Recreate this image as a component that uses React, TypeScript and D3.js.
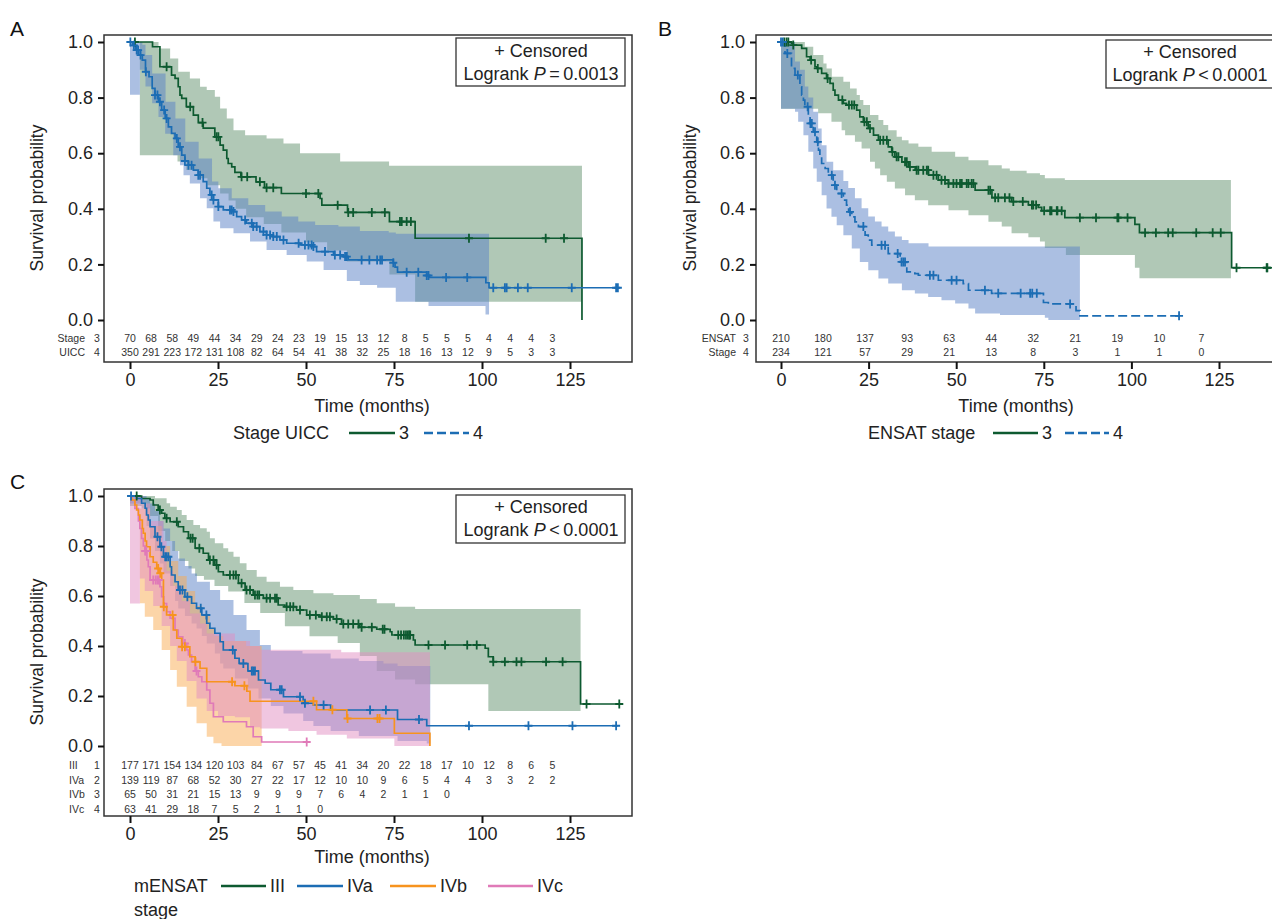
import React, { useEffect, useRef } from 'react';
import * as d3 from 'd3';

type Step = [number, number];

// ---------- Panel A: Stage UICC ----------
const riskTimesA = [0, 6, 12, 18, 24, 30, 36, 42, 48, 54, 60, 66, 72, 78, 84, 90, 96, 102, 108, 114, 120];
const riskA3 = [70, 68, 58, 49, 44, 34, 29, 24, 23, 19, 15, 13, 12, 8, 5, 5, 5, 4, 4, 4, 3];
const riskA4 = [350, 291, 223, 172, 131, 108, 82, 64, 54, 41, 38, 32, 25, 18, 16, 13, 12, 9, 5, 3, 3];

const kmA3: Step[] = [[0, 1], [6.4, 0.983], [8.5, 0.911], [11.8, 0.881], [12.8, 0.869], [13.7, 0.839], [14.2, 0.809], [14.7, 0.797], [16.0, 0.767], [18.0, 0.737], [19.4, 0.71], [20.8, 0.69], [24.1, 0.659], [25.6, 0.629], [26.5, 0.611], [27.5, 0.581], [27.9, 0.563], [28.9, 0.551], [29.8, 0.531], [31.5, 0.515], [35.8, 0.497], [38.2, 0.476], [43.0, 0.455], [54.0, 0.437], [54.5, 0.413], [61.8, 0.387], [73.7, 0.354], [81.0, 0.294], [128.4, 0]];
const censA3 = [1.4, 10.4, 17.1, 20.6, 24.6, 25.1, 31.7, 33.3, 36.9, 38.8, 40.7, 50.0, 53.5, 59.0, 62.0, 63.4, 68.7, 72.4, 76.7, 77.2, 78.6, 79.8, 96.3, 118.1, 123.3];
const loA3: Step[] = [[2.8, 0.593], [13.5, 0.57], [16, 0.54], [19.9, 0.51], [22, 0.485], [25.6, 0.455], [28, 0.43], [30, 0.40], [33, 0.37], [38, 0.345], [43, 0.315], [50, 0.28], [56, 0.25], [61.6, 0.21], [73.7, 0.164], [81, 0.066]];
const hiA3: Step[] = [[2.8, 1], [8.1, 0.977], [11.4, 0.941], [13.7, 0.893], [17.0, 0.869], [19.9, 0.839], [21.8, 0.827], [24.1, 0.803], [25.6, 0.761], [27.5, 0.725], [29.4, 0.683], [32.7, 0.665], [38.8, 0.653], [43.6, 0.635], [48.3, 0.6], [59.7, 0.57], [73.6, 0.555]];

const kmA4: Step[] = [[0, 1], [0.7, 0.988], [1.6, 0.971], [2.5, 0.953], [3.5, 0.935], [4.4, 0.893], [5.4, 0.875], [6.3, 0.833], [7.1, 0.809], [8.1, 0.785], [9.0, 0.755], [10.0, 0.725], [10.9, 0.695], [11.8, 0.671], [12.8, 0.653], [13.7, 0.623], [14.7, 0.593], [15.6, 0.572], [16.6, 0.557], [18.0, 0.539], [19.4, 0.521], [20.8, 0.498], [21.8, 0.474], [22.7, 0.45], [23.7, 0.432], [25.1, 0.408], [26.5, 0.396], [29.4, 0.39], [30.3, 0.372], [31.7, 0.36], [33.1, 0.348], [35.0, 0.336], [36.9, 0.318], [38.8, 0.306], [40.7, 0.3], [42.6, 0.288], [44.5, 0.276], [48.3, 0.27], [52.1, 0.264], [53.0, 0.246], [57.8, 0.234], [60.6, 0.228], [62.0, 0.216], [74.8, 0.206], [75.3, 0.19], [76.0, 0.172], [84.3, 0.16], [85.0, 0.153], [101.1, 0.134], [102.0, 0.116]];
const censA4 = [0.1, 1.1, 1.9, 2.3, 3.0, 4.5, 7.1, 7.8, 8.5, 9.7, 10.4, 13.3, 14.2, 15.6, 16.6, 17.5, 19.4, 19.9, 23.2, 23.7, 25.1, 28.4, 28.9, 29.4, 32.7, 34.6, 35.0, 36.0, 37.9, 38.8, 39.8, 40.7, 41.7, 43.6, 47.9, 49.7, 50.7, 51.6, 52.1, 55.4, 58.2, 59.7, 61.1, 61.6, 65.8, 68.0, 70.2, 71.1, 71.6, 74.8, 78.6, 81.9, 84.3, 84.8, 89.8, 95.8, 103.2, 106.5, 107.0, 110.2, 113.0, 125.5, 138.1, 138.6];
const loA4: Step[] = [[0, 0.81], [2.8, 0.9], [4.4, 0.84], [6.3, 0.78], [8.1, 0.73], [10, 0.67], [12.3, 0.593], [14.2, 0.557], [15.2, 0.521], [17.0, 0.491], [19.9, 0.438], [21.8, 0.402], [23.7, 0.354], [25.6, 0.33], [29.4, 0.312], [34.1, 0.282], [38.8, 0.252], [44.5, 0.234], [50.2, 0.21], [55, 0.18], [61.6, 0.14], [65.3, 0.126], [70.2, 0.116], [75.5, 0.066], [84.8, 0.05], [101, 0.02]];
const hiA4: Step[] = [[0, 1], [3.5, 0.99], [4.4, 0.953], [6.3, 0.887], [10.1, 0.785], [12.9, 0.725], [15.7, 0.641], [19.5, 0.581], [23.3, 0.498], [25.1, 0.474], [28.9, 0.438], [33.6, 0.414], [38.4, 0.39], [43.1, 0.372], [47.8, 0.354], [52.6, 0.342], [59.2, 0.336], [65.3, 0.32], [73.5, 0.315], [75.5, 0.31]];

// ---------- Panel B: ENSAT stage ----------
const riskTimesB = [0, 12, 24, 36, 48, 60, 72, 84, 96, 108, 120];
const riskB3 = [210, 180, 137, 93, 63, 44, 32, 21, 19, 10, 7];
const riskB4 = [234, 121, 57, 29, 21, 13, 8, 3, 1, 1, 0];

const kmB3: Step[] = [[0, 1], [3.0, 0.995], [3.5, 0.989], [5.9, 0.977], [7.3, 0.947], [8.3, 0.935], [9.7, 0.911], [10.2, 0.905], [11.6, 0.887], [13.0, 0.869], [14.0, 0.851], [14.9, 0.827], [15.4, 0.809], [16.4, 0.791], [17.8, 0.779], [18.7, 0.773], [21.6, 0.755], [22.5, 0.731], [23.5, 0.713], [24.9, 0.689], [26.4, 0.665], [27.8, 0.647], [30.6, 0.623], [31.6, 0.605], [32.5, 0.587], [34.5, 0.569], [36.4, 0.551], [38.3, 0.539], [42.1, 0.521], [44.9, 0.503], [47.8, 0.491], [55.4, 0.467], [60.2, 0.44], [65.8, 0.426], [70.6, 0.414], [73.4, 0.405], [74.4, 0.393], [81.0, 0.368], [101.0, 0.344], [102.3, 0.314], [128.6, 0.188]];
const censB3 = [0.95, 1.6, 2.1, 3.5, 8.6, 10.5, 13.3, 17.5, 19.4, 20.2, 20.9, 23.8, 24.5, 25.4, 28.3, 29.2, 30.2, 31.8, 33.0, 33.5, 35.4, 35.9, 36.8, 38.7, 39.2, 40.6, 41.6, 42.0, 43.5, 44.4, 45.8, 46.8, 47.8, 49.2, 50.1, 51.1, 51.6, 53.0, 53.5, 54.4, 54.9, 59.2, 59.7, 61.1, 62.0, 63.9, 65.2, 66.3, 69.0, 71.6, 72.0, 72.8, 75.1, 76.8, 77.2, 78.7, 78.9, 80.1, 85.3, 89.9, 96.0, 96.3, 98.9, 103.9, 107.0, 110.5, 111.8, 118.5, 123.2, 125.5, 130.0, 138.6, 138.8];
const loB3: Step[] = [[0, 0.76], [9.2, 0.76], [10.6, 0.744], [14.4, 0.713], [17.3, 0.683], [18.3, 0.665], [21.1, 0.641], [23.0, 0.617], [25.4, 0.569], [26.8, 0.545], [28.3, 0.521], [30.2, 0.497], [32.5, 0.473], [35.4, 0.449], [38.2, 0.431], [42, 0.413], [47.8, 0.395], [53.5, 0.377], [59.2, 0.353], [63, 0.336], [65.8, 0.312], [70.6, 0.298], [73.9, 0.282], [75.3, 0.259], [81.3, 0.234], [101, 0.188], [102.3, 0.15]];
const hiB3: Step[] = [[0, 1], [6.8, 0.983], [9.2, 0.953], [12.1, 0.923], [13, 0.905], [14.5, 0.875], [17.8, 0.857], [19.7, 0.833], [21.6, 0.809], [22.5, 0.791], [23.5, 0.773], [25.4, 0.737], [27.8, 0.719], [29.2, 0.701], [30.6, 0.683], [33, 0.659], [34.5, 0.647], [36.4, 0.635], [39.2, 0.623], [43, 0.605], [49.7, 0.587], [53.5, 0.575], [59.2, 0.557], [63, 0.545], [65.3, 0.537], [70.1, 0.528], [73.9, 0.522], [75.3, 0.51], [81, 0.504]];

const kmB4: Step[] = [[0, 1], [1.14, 0.959], [3.0, 0.905], [4.0, 0.881], [5.4, 0.839], [5.9, 0.809], [6.4, 0.791], [6.8, 0.767], [7.8, 0.737], [8.3, 0.707], [9.2, 0.677], [10.2, 0.641], [10.7, 0.611], [11.1, 0.587], [11.6, 0.563], [12.6, 0.545], [13.5, 0.521], [14.9, 0.485], [15.9, 0.455], [17.8, 0.431], [18.7, 0.413], [19.3, 0.389], [20.2, 0.371], [21.1, 0.353], [22.1, 0.336], [24.0, 0.305], [24.9, 0.287], [25.9, 0.269], [30.6, 0.239], [34.0, 0.209], [35.9, 0.173], [38.2, 0.167], [39.2, 0.161], [44.9, 0.143], [52.0, 0.131], [53.5, 0.107], [60.1, 0.096], [74.9, 0.063], [76.3, 0.058], [84.2, 0.034], [85.3, 0.015]];
const censB4 = [0, 0.5, 1.8, 4.8, 7.6, 8.4, 8.8, 9.7, 10.5, 14.5, 15.4, 17.3, 19.7, 23.5, 28.7, 29.7, 33.3, 34.4, 34.9, 35.4, 42.5, 43.5, 48.7, 50.1, 58.2, 62.0, 68.4, 71.1, 71.7, 73.0, 82.5, 113.6];
const loB4: Step[] = [[0, 0.76], [4.0, 0.749], [4.9, 0.713], [6.4, 0.665], [7.8, 0.605], [9.2, 0.545], [10.2, 0.497], [11.6, 0.449], [13, 0.401], [14.4, 0.371], [15.9, 0.341], [17.8, 0.305], [20.2, 0.257], [22.5, 0.209], [24.9, 0.179], [27.8, 0.149], [30.6, 0.131], [34.5, 0.107], [38.2, 0.095], [42, 0.083], [45.8, 0.071], [49.7, 0.059], [53.5, 0.041], [55.4, 0.023], [62.5, 0.018], [75.3, 0.008], [76.3, 0.0]];
const hiB4: Step[] = [[0, 1], [4.0, 0.93], [5.4, 0.9], [6.8, 0.84], [7.8, 0.8], [9.2, 0.749], [10.6, 0.689], [11.6, 0.629], [13.0, 0.569], [14.9, 0.539], [17.8, 0.5], [19.2, 0.475], [21.1, 0.438], [23, 0.402], [24.9, 0.372], [26.8, 0.354], [28.7, 0.336], [30.6, 0.318], [32.5, 0.3], [34.5, 0.288], [36.4, 0.276], [42.1, 0.264]];

// ---------- Panel C: mENSAT stage ----------
const riskTimesC = riskTimesA;
const riskC1 = [177, 171, 154, 134, 120, 103, 84, 67, 57, 45, 41, 34, 20, 22, 18, 17, 10, 12, 8, 6, 5];
const riskC2 = [139, 119, 87, 68, 52, 30, 27, 22, 17, 12, 10, 10, 9, 6, 5, 4, 4, 3, 3, 2, 2];
const riskC3 = [65, 50, 31, 21, 15, 13, 9, 9, 9, 7, 6, 4, 2, 1, 1, 0];
const riskC4 = [63, 41, 29, 18, 7, 5, 2, 1, 1, 0];

const kmC1: Step[] = [[0, 1], [3.3, 0.99], [5.7, 0.984], [6.6, 0.964], [8.0, 0.944], [9.0, 0.931], [9.9, 0.911], [11.4, 0.897], [13.7, 0.877], [15.2, 0.857], [16.6, 0.831], [18.5, 0.791], [20.8, 0.771], [22.3, 0.744], [24.1, 0.724], [25.1, 0.697], [26.5, 0.684], [30.8, 0.651], [32.7, 0.624], [35.0, 0.604], [37.9, 0.591], [42.1, 0.564], [44.0, 0.557], [47.3, 0.544], [50.2, 0.524], [54.0, 0.517], [57.8, 0.508], [60.1, 0.488], [65.3, 0.475], [70.1, 0.467], [73.9, 0.457], [74.4, 0.444], [80.5, 0.424], [81.0, 0.404], [100.9, 0.391], [101.8, 0.357], [103.2, 0.337], [128.0, 0.168]];
const censC1 = [1.9, 8.5, 10.4, 13.3, 17.2, 17.8, 19.7, 22.7, 23.7, 24.6, 28.4, 29.4, 30.1, 31.7, 33.1, 34.1, 35.5, 36.2, 36.7, 38.8, 39.8, 41.2, 41.7, 44.5, 45.5, 46.4, 48.3, 51.1, 52.8, 54.5, 55.9, 56.8, 58.7, 60.6, 62.0, 63.4, 64.9, 65.8, 68.7, 71.8, 72.3, 76.2, 77.0, 77.8, 78.4, 78.9, 79.3, 79.6, 84.8, 89.5, 95.8, 98.5, 103.2, 106.5, 109.8, 111.2, 118.2, 122.9, 129.7, 139.0];
const loC1: Step[] = [[0, 0.96], [3.3, 0.95], [5.7, 0.92], [8, 0.86], [10, 0.82], [12, 0.78], [14, 0.74], [16.6, 0.71], [18.5, 0.68], [21, 0.665], [24, 0.64], [27.9, 0.618], [32.5, 0.572], [37, 0.532], [44, 0.479], [51, 0.439], [59, 0.412], [65.3, 0.36], [70.1, 0.3], [75.3, 0.266], [81, 0.247], [101.8, 0.14]];
const hiC1: Step[] = [[0, 1], [7.1, 0.991], [10.4, 0.971], [11.4, 0.957], [13.3, 0.944], [14.7, 0.924], [16.1, 0.904], [18.0, 0.884], [19.9, 0.871], [21.8, 0.857], [22.7, 0.831], [24.1, 0.811], [26.5, 0.791], [27.9, 0.777], [29.4, 0.757], [31.2, 0.731], [33.1, 0.704], [36.0, 0.677], [38.8, 0.657], [42.6, 0.637], [46.4, 0.624], [52.1, 0.611], [57.8, 0.604], [65.3, 0.588], [70.1, 0.571], [75.3, 0.557], [81, 0.548]];

const kmC2: Step[] = [[0, 1], [1.9, 0.99], [3.3, 0.971], [4.3, 0.951], [4.7, 0.924], [5.2, 0.904], [5.7, 0.877], [7.1, 0.837], [8.5, 0.797], [9.5, 0.757], [11.4, 0.717], [11.8, 0.684], [12.8, 0.657], [13.7, 0.624], [15.6, 0.597], [17.5, 0.571], [18.9, 0.551], [20.4, 0.524], [21.8, 0.491], [22.7, 0.471], [24.1, 0.451], [25.6, 0.417], [26.5, 0.384], [29.8, 0.351], [31.0, 0.33], [33.5, 0.3], [36.5, 0.264], [38.4, 0.251], [40.0, 0.225], [43.6, 0.197], [49.2, 0.171], [52.1, 0.164], [57.0, 0.144], [76.0, 0.106], [84.3, 0.081]];
const censC2 = [0.3, 7.8, 8.9, 10.0, 10.4, 10.9, 14.2, 14.9, 16.3, 20.1, 21.7, 29.2, 32.2, 34.6, 35.0, 35.5, 42.6, 43.1, 48.3, 49.7, 55.0, 68.2, 72.7, 82.1, 96.3, 113.2, 125.7, 138.1];
const loC2: Step[] = [[0, 0.97], [4.7, 0.88], [5.7, 0.83], [7.1, 0.78], [8.5, 0.73], [9.5, 0.69], [11.4, 0.64], [12.8, 0.58], [13.7, 0.55], [15.6, 0.52], [17.5, 0.49], [18.9, 0.47], [20.4, 0.44], [21.8, 0.41], [24.1, 0.37], [25.6, 0.33], [26.5, 0.31], [29.8, 0.27], [33.5, 0.23], [36.5, 0.19], [40, 0.16], [43.6, 0.13], [49.2, 0.1], [52.1, 0.08], [57, 0.06], [65, 0.04], [76, 0.02], [84.3, 0.01]];
const hiC2: Step[] = [[0, 1], [4.7, 0.99], [5.7, 0.97], [7.1, 0.94], [8.5, 0.9], [9.5, 0.87], [11.4, 0.82], [12.8, 0.78], [13.7, 0.75], [15.6, 0.72], [17.5, 0.69], [19, 0.657], [22.7, 0.624], [25.6, 0.584], [29.4, 0.524], [33.1, 0.464], [36.9, 0.404], [40, 0.38], [49, 0.37], [57, 0.35], [65, 0.34], [72, 0.33], [76, 0.32]];

const kmC3: Step[] = [[0, 1], [0.5, 0.984], [1.4, 0.964], [1.9, 0.944], [2.4, 0.924], [2.8, 0.904], [3.5, 0.87], [3.8, 0.851], [4.3, 0.82], [4.7, 0.797], [5.7, 0.757], [6.6, 0.735], [7.6, 0.71], [8.5, 0.691], [9.0, 0.664], [9.5, 0.557], [10.4, 0.524], [12.3, 0.464], [13.3, 0.431], [14.7, 0.397], [17.0, 0.357], [18.5, 0.337], [19.9, 0.311], [21.8, 0.257], [29.8, 0.241], [33.2, 0.219], [34.1, 0.179], [53.0, 0.145], [61.6, 0.11], [75.1, 0.051], [85.2, 0]];
const censC3 = [8.0, 8.6, 9.6, 12.1, 14.8, 15.6, 18.6, 29.0, 32.5, 52.1, 57.5, 61.8, 70.3, 70.9];
const loC3: Step[] = [[0, 0.57], [2.8, 0.67], [4.2, 0.62], [6.6, 0.56], [9, 0.48], [11.4, 0.4], [13.3, 0.34], [16.1, 0.26], [18.9, 0.19], [21.8, 0.14], [25, 0.12], [29.8, 0.115], [34.1, 0.075], [37, 0.07], [45, 0.06], [53, 0.045], [61.6, 0.03], [75.1, 0.0]];
const hiC3: Step[] = [[0, 1], [3.8, 0.97], [5.7, 0.9], [9.5, 0.82], [10.4, 0.7], [12.3, 0.64], [14.7, 0.58], [17, 0.53], [19.9, 0.49], [21.8, 0.45], [29.8, 0.42], [34.1, 0.4], [37, 0.385], [60, 0.375]];

const kmC4: Step[] = [[0, 1], [0.5, 0.984], [1.4, 0.95], [2.4, 0.9], [2.8, 0.87], [3.3, 0.83], [3.8, 0.8], [4.3, 0.78], [4.8, 0.744], [5.2, 0.717], [5.7, 0.664], [8.5, 0.637], [9.0, 0.597], [9.6, 0.57], [10.4, 0.537], [11.4, 0.511], [12.8, 0.464], [13.7, 0.437], [15.0, 0.41], [16.1, 0.384], [16.6, 0.364], [17.5, 0.337], [18.5, 0.3], [19.4, 0.277], [20.4, 0.257], [21.8, 0.224], [22.7, 0.171], [23.7, 0.117], [26.5, 0.097], [33.1, 0.077], [35.0, 0.037], [37.4, 0.016]];
const censC4 = [4.3, 4.6, 6.6, 7.3, 7.8, 8.2, 15.6, 18.9, 50.2];
const loC4: Step[] = [[2.8, 0.571], [4.2, 0.517], [6.6, 0.464], [9.0, 0.384], [11.4, 0.304], [13.3, 0.237], [16.1, 0.157], [18.9, 0.091], [21.8, 0.037], [23.7, 0.011], [26, 0.0]];
const hiC4: Step[] = [[2.8, 0.95], [5.7, 0.88], [9, 0.8], [11.4, 0.74], [13.7, 0.68], [16.1, 0.62], [18.5, 0.56], [20.4, 0.52], [22.7, 0.47], [24, 0.44], [26.5, 0.42], [33, 0.4]];

const xTicks = [0, 25, 50, 75, 100, 125];
const yTicks = [0, 0.2, 0.4, 0.6, 0.8, 1.0];

const FONT = '"Liberation Sans", Arial, Helvetica, sans-serif';
const GREEN = '#0d5a30';
const BLUE = '#1c6db4';
const ORANGE = '#f7931e';
const PINK = '#e07ab8';
const F_GREEN = 'rgb(97,145,109)';
const F_BLUE = 'rgb(87,127,197)';
const F_ORANGE = 'rgb(249,171,81)';
const F_PINK = 'rgb(225,141,193)';

function stepAt(steps: Step[], t: number) {
  let v = steps[0][1];
  for (const s of steps) {
    if (s[0] <= t) v = s[1];
    else break;
  }
  return v;
}

function bandRows(lo: Step[], hi: Step[], end: number) {
  const start = Math.max(lo[0][0], hi[0][0]);
  const ts = Array.from(new Set(lo.concat(hi).map(d => d[0]).filter(t => t >= start))).sort((a, b) => a - b);
  const rows = ts.map(t => [t, stepAt(lo, t), stepAt(hi, t)]);
  rows.push([end, stepAt(lo, end), stepAt(hi, end)]);
  return rows;
}

function drawPanel(svg: any, p: any) {
  const x = d3.scaleLinear().domain([0, 125]).range(p.xRange);
  const y = d3.scaleLinear().domain([0, 1]).range(p.yRange);
  const g = svg.append('g');

  // confidence bands
  p.curves.forEach((c: any) => {
    const rows = bandRows(c.lo, c.hi, c.bandEnd);
    const area = d3.area<any>()
      .curve(d3.curveStepAfter)
      .x(d => x(d[0]))
      .y0(d => y(d[1]))
      .y1(d => y(d[2]));
    g.append('path').attr('d', area(rows)).attr('fill', c.fill).attr('fill-opacity', 0.5);
  });

  // survival curves
  p.curves.forEach((c: any) => {
    const pts = c.km.slice();
    const last = pts[pts.length - 1];
    if (c.end > last[0]) pts.push([c.end, last[1]]);
    const line = d3.line<any>().curve(d3.curveStepAfter).x(d => x(d[0])).y(d => y(d[1]));
    g.append('path').attr('d', line(pts)).attr('fill', 'none')
      .attr('stroke', c.color).attr('stroke-width', 1.7)
      .attr('stroke-dasharray', c.dash || null);
  });

  // censor marks
  p.curves.forEach((c: any) => {
    g.selectAll(null).data(c.cens).enter().append('path')
      .attr('d', (t: number) => {
        const cx = x(t), cy = y(stepAt(c.km, t));
        return `M${cx - 4},${cy}H${cx + 4}M${cx},${cy - 4.5}V${cy + 4.5}`;
      })
      .attr('stroke', c.color).attr('stroke-width', 1.8).attr('fill', 'none');
  });

  // frame
  const f = p.frame;
  g.append('rect').attr('x', f.x).attr('y', f.y).attr('width', f.w).attr('height', f.h)
    .attr('fill', 'none').attr('stroke', '#333').attr('stroke-width', 1.5);

  // axes
  const ya = g.append('g').attr('transform', `translate(${f.x},0)`)
    .call(d3.axisLeft(y).tickValues(yTicks).tickFormat(d3.format('.1f')).tickSize(6).tickPadding(5));
  const xa = g.append('g').attr('transform', `translate(0,${f.y + f.h})`)
    .call(d3.axisBottom(x).tickValues(xTicks).tickSize(7).tickPadding(4));
  [ya, xa].forEach(a => {
    a.select('.domain').remove();
    a.selectAll('line').attr('stroke', '#111').attr('stroke-width', 2);
    a.selectAll('text').attr('font-family', FONT).attr('font-size', 18).attr('fill', '#222');
  });

  // axis titles
  g.append('text').attr('transform', `translate(${p.yTitle[0]},${p.yTitle[1]}) rotate(-90)`)
    .attr('text-anchor', 'middle').attr('dominant-baseline', 'middle')
    .attr('font-family', FONT).attr('font-size', 17.5).attr('fill', '#222').text('Survival probability');
  g.append('text').attr('x', p.xTitle[0]).attr('y', p.xTitle[1]).attr('text-anchor', 'middle')
    .attr('font-family', FONT).attr('font-size', 18).attr('fill', '#222').text('Time (months)');

  // panel letter
  g.append('text').attr('x', p.letterPos[0]).attr('y', p.letterPos[1])
    .attr('font-family', FONT).attr('font-size', 21).attr('fill', '#111').text(p.letter);

  // numbers at risk
  p.risk.rows.forEach((r: any, i: number) => {
    const ry = p.risk.ys[i];
    g.selectAll(null).data(r.values).enter().append('text')
      .attr('x', (_: any, j: number) => x(p.risk.times[j])).attr('y', ry)
      .attr('text-anchor', 'middle').attr('dominant-baseline', 'middle')
      .attr('font-family', FONT).attr('font-size', 10.5).attr('fill', '#333')
      .text((d: number) => d);
    g.append('text').attr('x', p.risk.labelX).attr('y', ry)
      .attr('text-anchor', p.risk.labelAnchor).attr('dominant-baseline', 'middle')
      .attr('font-family', FONT).attr('font-size', 10.5).attr('fill', '#333').text(r.label);
    g.append('text').attr('x', p.risk.groupX).attr('y', ry)
      .attr('text-anchor', 'middle').attr('dominant-baseline', 'middle')
      .attr('font-family', FONT).attr('font-size', 10.5).attr('fill', '#333').text(r.group);
  });

  // inset legend box
  const b = p.box;
  g.append('rect').attr('x', b.x).attr('y', b.y).attr('width', b.w).attr('height', b.h)
    .attr('fill', 'white').attr('stroke', '#333').attr('stroke-width', 1.3);
  g.append('text').attr('x', b.cx).attr('y', b.l1).attr('text-anchor', 'middle')
    .attr('font-family', FONT).attr('font-size', 18).attr('fill', '#222').text('+ Censored');
  const lt = g.append('text').attr('x', b.cx).attr('y', b.l2).attr('text-anchor', 'middle')
    .attr('font-family', FONT).attr('font-size', 18).attr('fill', '#222');
  lt.append('tspan').text('Logrank ');
  lt.append('tspan').attr('font-style', 'italic').text('P');
  lt.append('tspan').text(b.pText);

  // bottom legend
  p.legend.title.forEach((t: string, i: number) => {
    g.append('text').attr('x', p.legend.titleX).attr('y', p.legend.y + 6 + i * 24)
      .attr('font-family', FONT).attr('font-size', 18).attr('fill', '#222').text(t);
  });
  p.legend.items.forEach((it: any) => {
    g.append('line').attr('x1', it.x1).attr('x2', it.x2).attr('y1', p.legend.y).attr('y2', p.legend.y)
      .attr('stroke', it.color).attr('stroke-width', 2.4).attr('stroke-dasharray', it.dash || null);
    g.append('text').attr('x', it.x2 + 4).attr('y', p.legend.y + 6)
      .attr('font-family', FONT).attr('font-size', 18).attr('fill', '#222').text(it.label);
  });
}

const panels = [
  {
    letter: 'A', letterPos: [10, 36], xRange: [130, 570], yRange: [320, 42],
    frame: { x: 104, y: 35, w: 528, h: 327 }, yTitle: [38, 198], xTitle: [372, 412],
    curves: [
      { km: kmA3, end: 128.4, cens: censA3, lo: loA3, hi: hiA3, bandEnd: 128.4, color: GREEN, fill: F_GREEN },
      { km: kmA4, end: 138.6, cens: censA4, lo: loA4, hi: hiA4, bandEnd: 102.0, color: BLUE, fill: F_BLUE },
    ],
    risk: { times: riskTimesA, ys: [339, 353], labelX: 85, labelAnchor: 'end', groupX: 97,
      rows: [{ label: 'Stage', group: '3', values: riskA3 }, { label: 'UICC', group: '4', values: riskA4 }] },
    box: { x: 456, y: 38, w: 169, h: 48, cx: 541, l1: 57, l2: 80, pText: '\u2009=\u20090.0013' },
    legend: { y: 433, titleX: 233, title: ['Stage UICC'], items: [
      { x1: 349, x2: 395, color: GREEN, label: '3' },
      { x1: 424, x2: 469, color: BLUE, label: '4', dash: '9 4' }] },
  },
  {
    letter: 'B', letterPos: [658, 36], xRange: [781, 1219], yRange: [320, 42],
    frame: { x: 756, y: 35, w: 530, h: 327 }, yTitle: [691, 198], xTitle: [1016, 412],
    curves: [
      { km: kmB3, end: 142, cens: censB3, lo: loB3, hi: hiB3, bandEnd: 128.4, color: GREEN, fill: F_GREEN },
      { km: kmB4, end: 113.6, cens: censB4, lo: loB4, hi: hiB4, bandEnd: 85.3, color: BLUE, fill: F_BLUE, dash: '9 4' },
    ],
    risk: { times: riskTimesB, ys: [339, 353], labelX: 736, labelAnchor: 'end', groupX: 746,
      rows: [{ label: 'ENSAT', group: '3', values: riskB3 }, { label: 'Stage', group: '4', values: riskB4 }] },
    box: { x: 1106, y: 40, w: 170, h: 48, cx: 1190, l1: 58, l2: 81, pText: '\u2009<\u20090.0001' },
    legend: { y: 433, titleX: 868, title: ['ENSAT stage'], items: [
      { x1: 993, x2: 1038, color: GREEN, label: '3' },
      { x1: 1065, x2: 1109, color: BLUE, label: '4', dash: '9 4' }] },
  },
  {
    letter: 'C', letterPos: [10, 489], xRange: [130, 570], yRange: [746, 496],
    frame: { x: 104, y: 489, w: 528, h: 327 }, yTitle: [38, 652], xTitle: [372, 863],
    curves: [
      { km: kmC1, end: 139.7, cens: censC1, lo: loC1, hi: hiC1, bandEnd: 128.0, color: GREEN, fill: F_GREEN },
      { km: kmC2, end: 138.7, cens: censC2, lo: loC2, hi: hiC2, bandEnd: 85.3, color: BLUE, fill: F_BLUE },
      { km: kmC4, end: 50.2, cens: censC4, lo: loC4, hi: hiC4, bandEnd: 37.4, color: PINK, fill: F_ORANGE },
      { km: kmC3, end: 85.2, cens: censC3, lo: loC3, hi: hiC3, bandEnd: 85.2, color: ORANGE, fill: F_PINK },
    ],
    risk: { times: riskTimesC, ys: [766, 781, 795, 810], labelX: 69, labelAnchor: 'start', groupX: 97,
      rows: [{ label: 'III', group: '1', values: riskC1 }, { label: 'IVa', group: '2', values: riskC2 },
        { label: 'IVb', group: '3', values: riskC3 }, { label: 'IVc', group: '4', values: riskC4 }] },
    box: { x: 456, y: 495, w: 169, h: 48, cx: 541, l1: 513, l2: 536, pText: '\u2009<\u20090.0001' },
    legend: { y: 886, titleX: 134, title: ['mENSAT', 'stage'], items: [
      { x1: 221, x2: 266, color: GREEN, label: 'III' },
      { x1: 297, x2: 343, color: BLUE, label: 'IVa' },
      { x1: 390, x2: 436, color: ORANGE, label: 'IVb' },
      { x1: 488, x2: 533, color: PINK, label: 'IVc' }] },
  },
];

export default function App() {
  const ref = useRef<SVGSVGElement | null>(null);

  useEffect(() => {
    const svg = d3.select(ref.current);
    svg.selectAll('*').remove();
    panels.forEach(p => drawPanel(svg, p));
  }, []);

  return (
    <svg ref={ref} width={1272} height={919}
      style={{ position: 'absolute', left: 0, top: 0, background: 'white' }} />
  );
}
